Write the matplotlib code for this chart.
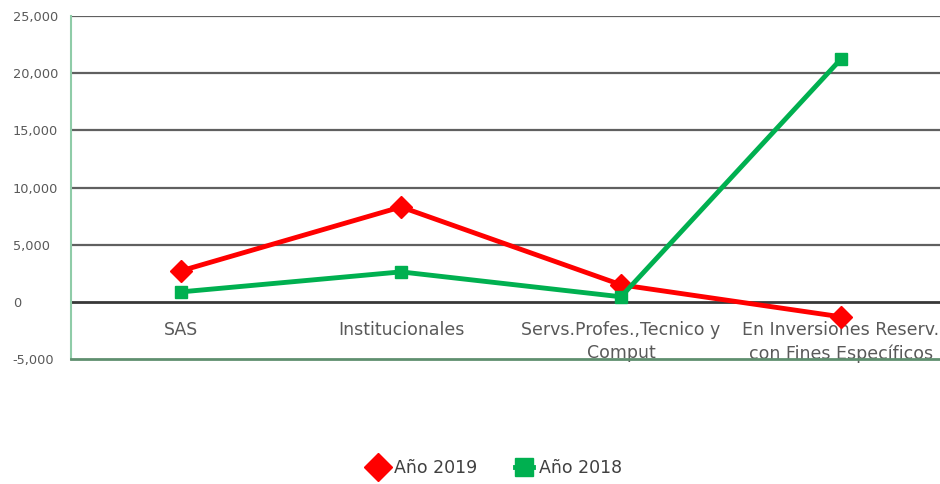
import numpy as np
import matplotlib.pyplot as plt

# categories and values
categorias = ['SAS', 'Institucionales', 'Servs.Profes.,Tecnico y\nComput',
              'En Inversiones Reserv.\ncon Fines Específicos']
anio_2019 = [2710, 8300, 1490, -1310]
anio_2018 = [870, 2620, 440, 21240]
yticks = [-5000, 0, 5000, 10000, 15000, 20000, 25000]

fig = plt.figure(figsize=(9.4, 4.84), dpi=100)
ax = fig.add_axes([71/940, (484-359)/484, (951-71)/940, (359-16)/484])

x = np.arange(len(categorias))
ax.plot(x, anio_2019, color='#ff0000', lw=3.5, marker='D', ms=11, label='Año 2019', zorder=3)
ax.plot(x, anio_2018, color='#00b050', lw=3.5, marker='s', ms=8, label='Año 2018', zorder=3)

ax.set_xlim(-0.5, 3.5)
ax.set_ylim(-5000, 25000)
ax.set_yticks(yticks)
ax.set_yticklabels([f'{v:,}' for v in yticks])
for v in yticks[1:]:
    ax.axhline(v, color='#606060' if v else '#383838', lw=1.6 if v else 2, zorder=1)

ax.set_xticks([])
for i, c in enumerate(categorias):
    ax.text(i, -1700, c, ha='center', va='top', fontsize=12.5, color='#595959',
            linespacing=1.35, zorder=2)

ax.tick_params(axis='y', length=0, pad=42, labelsize=9.3, labelcolor='#595959')
for lab in ax.get_yticklabels():
    lab.set_ha('left')

for s in ['top', 'right']:
    ax.spines[s].set_visible(False)
ax.spines['left'].set_color('#8fcca8')
ax.spines['left'].set_linewidth(1.5)
ax.spines['bottom'].set_color('#5f8f6f')
ax.spines['bottom'].set_linewidth(2)

leg = fig.legend(loc='center', bbox_to_anchor=(496/940, 1 - 468/484), ncol=2, frameon=False,
                 fontsize=12.5, labelcolor='#404040', handlelength=1.0, columnspacing=2.2,
                 handletextpad=0.4)
leg.legend_handles[0].set_markersize(14)
leg.legend_handles[1].set_markersize(13)

fig.savefig('out.png')
